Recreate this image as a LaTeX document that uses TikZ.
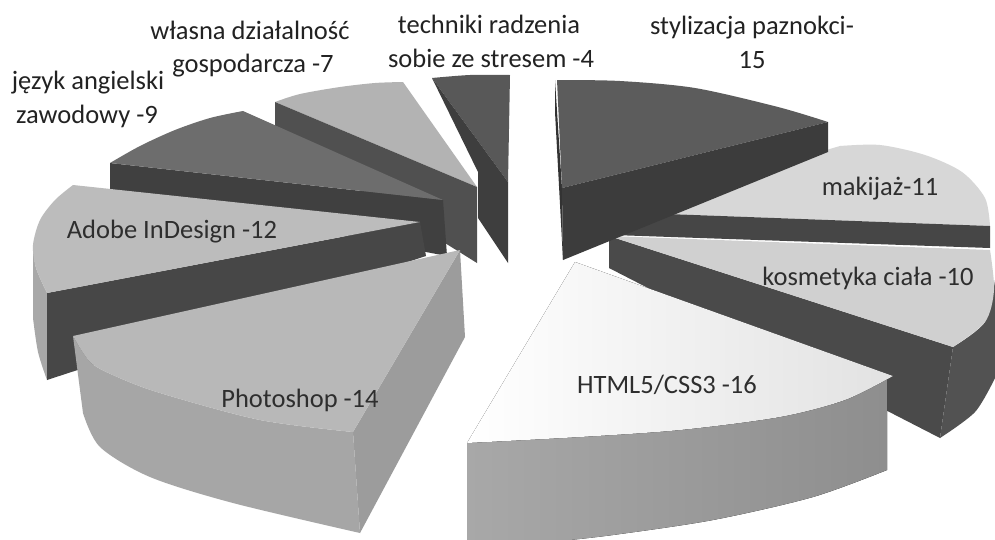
\documentclass[tikz,border=0pt]{standalone}
\usepackage{fontspec}
\setmainfont{Carlito}
\definecolor{tekTop}{HTML}{585858}
\definecolor{tekCut}{HTML}{3E3E3E}
\definecolor{wlaTop}{HTML}{B3B3B3}
\definecolor{wlaCut}{HTML}{505050}
\definecolor{jezTop}{HTML}{6D6D6D}
\definecolor{jezCut}{HTML}{404040}
\definecolor{adoTop}{HTML}{BCBCBC}
\definecolor{adoCut}{HTML}{474747}
\definecolor{adoRim}{HTML}{A8A8A8}
\definecolor{phoTop}{HTML}{B8B8B8}
\definecolor{phoRim}{HTML}{A6A6A6}
\definecolor{phoCut}{HTML}{9C9C9C}
\definecolor{kosTop}{HTML}{D0D0D0}
\definecolor{kosCut}{HTML}{4A4A4A}
\definecolor{kosRim}{HTML}{525252}
\definecolor{makTop}{HTML}{D7D7D7}
\definecolor{makCut}{HTML}{464646}
\definecolor{styTop}{HTML}{5C5C5C}
\definecolor{styCut}{HTML}{3C3C3C}
\definecolor{stySide}{HTML}{333333}
\definecolor{htmRimL}{HTML}{A8A8A8}
\definecolor{htmRimR}{HTML}{8E8E8E}
\definecolor{htmTopR}{HTML}{E2E2E2}
\definecolor{labelInk}{HTML}{222222}
\definecolor{sliceInk}{HTML}{2E2E2E}
\begin{document}
\begin{tikzpicture}[x=1pt,y=-1pt,
  lbl/.style={font=\fontsize{26.5}{34}\selectfont, text=labelInk, inner sep=0pt, anchor=base},
  slbl/.style={lbl, text=sliceInk}]
\useasboundingbox (0,0) rectangle (995,539);
\fill[white] (0,0) rectangle (995,539);

% ---- własna działalność gospodarcza
\fill[wlaTop] (477,187) -- (275,102) -- plot[smooth] coordinates {(275,102) (300,94) (340,87) (375,83) (403,82)} -- cycle;
\fill[wlaCut] (275,102) -- (477,187) -- (477,263) -- (275,137) -- cycle;

% ---- techniki radzenia sobie ze stresem
\fill[tekTop] (508,182) -- (432,78) -- plot[smooth] coordinates {(432,78) (470,75) (510,75)} -- cycle;
\fill[tekCut] (432,78) -- (508,182) -- (508,263) -- (478,218) -- (478,172) -- cycle;

% ---- język angielski zawodowy
\fill[jezCut] (110,163) -- (443,200) -- (447,256) -- (110,192) -- cycle;
\fill[jezTop] (443,200) -- (110,163) -- plot[smooth] coordinates {(110,163) (140,146) (175,130) (210,118) (243,111)} -- cycle;

% ---- Adobe InDesign
\fill[adoRim] plot[smooth] coordinates {(33,245) (36,268) (47,293)} -- (47,380) -- plot[smooth] coordinates {(47,380) (38,352) (33,318)} -- cycle;
\fill[adoCut] (47,293) -- (420,222) -- (426,256) -- (47,380) -- cycle;
\fill[adoTop] (73,185) -- (420,222) -- (47,293) -- plot[smooth] coordinates {(47,293) (36,268) (33,245) (40,220) (55,200) (73,185)} -- cycle;

% ---- Photoshop
\fill[phoCut] (460,250) -- (465,337) -- (360,533) -- (353,432) -- cycle;
\fill[phoRim] plot[smooth] coordinates {(73,336) (90,362) (115,376) (160,393) (260,420) (353,432)} -- (360,533) -- plot[smooth] coordinates {(360,533) (233,503) (150,477) (100,447) (83,413)} -- cycle;
\fill[phoTop] (73,336) -- (460,250) -- (353,432) -- plot[smooth] coordinates {(353,432) (260,420) (160,393) (115,376) (90,362) (73,336)} -- cycle;

% ---- kosmetyka ciała
\fill[kosCut] (609,236) -- (953,347) -- (940,438) -- (609,268) -- cycle;
\fill[kosRim] plot[smooth] coordinates {(995,280) (985,322) (953,347)} -- (940,438) -- plot[smooth] coordinates {(940,438) (975,412) (995,378)} -- cycle;
\fill[kosTop] (609,236) -- (990,250) -- plot[smooth] coordinates {(990,250) (994,290) (985,322) (953,347)} -- cycle;

% ---- makijaż
\fill[makTop] (613,212) -- (840,146) -- plot[smooth] coordinates {(840,146) (880,145) (925,155) (962,172) (985,198) (990,226)} -- cycle;
\fill[makCut] (613,212) -- (990,226) -- (990,248) -- (613,235) -- cycle;

% ---- stylizacja paznokci
\fill[stySide] (555,80) -- (562,188) -- (563,260) -- (555,112) -- cycle;
\fill[styTop] (562,188) -- (557,80) -- plot[smooth] coordinates {(557,80) (620,81) (695,88) (778,107) (828,122)} -- cycle;
\fill[styCut] (562,188) -- (828,122) -- (828,152) -- (563,260) -- cycle;

% ---- HTML5/CSS3
\fill[left color=htmRimL, right color=htmRimR] plot[smooth] coordinates {(467,443) (580,437) (680,430) (780,417) (845,400) (887,378)} -- (887,470) -- plot[smooth] coordinates {(887,470) (813,497) (713,520) (613,535) (560,541)} -- (467,541) -- cycle;
\fill[left color=white, right color=htmTopR] (575,262) -- (893,376) -- plot[smooth] coordinates {(893,376) (845,400) (780,417) (680,430) (580,437) (467,443)} -- cycle;

% ---- labels
\node[lbl] (lsty1) at (752,34) {stylizacja paznokci-};
\node[lbl] (lsty2) at (752,68) {15};
\node[lbl] (ltek1) at (489,33) {techniki radzenia};
\node[lbl] (ltek2) at (491,67) {sobie ze stresem -4};
\node[lbl] (lwla1) at (250,39) {własna działalność};
\node[lbl] (lwla2) at (253,72) {gospodarcza -7};
\node[lbl] (ljez1) at (88,89) {język angielski};
\node[lbl] (ljez2) at (87,123) {zawodowy -9};
\node[slbl] (lado) at (172,238) {Adobe InDesign -12};
\node[slbl] (lpho) at (300,407) {Photoshop -14};
\node[slbl] (lhtm) at (667,393) {HTML5/CSS3 -16};
\node[slbl] (lmak) at (880,195) {makijaż-11};
\node[slbl] (lkos) at (868,285) {kosmetyka ciała -10};
\end{tikzpicture}
\end{document}
